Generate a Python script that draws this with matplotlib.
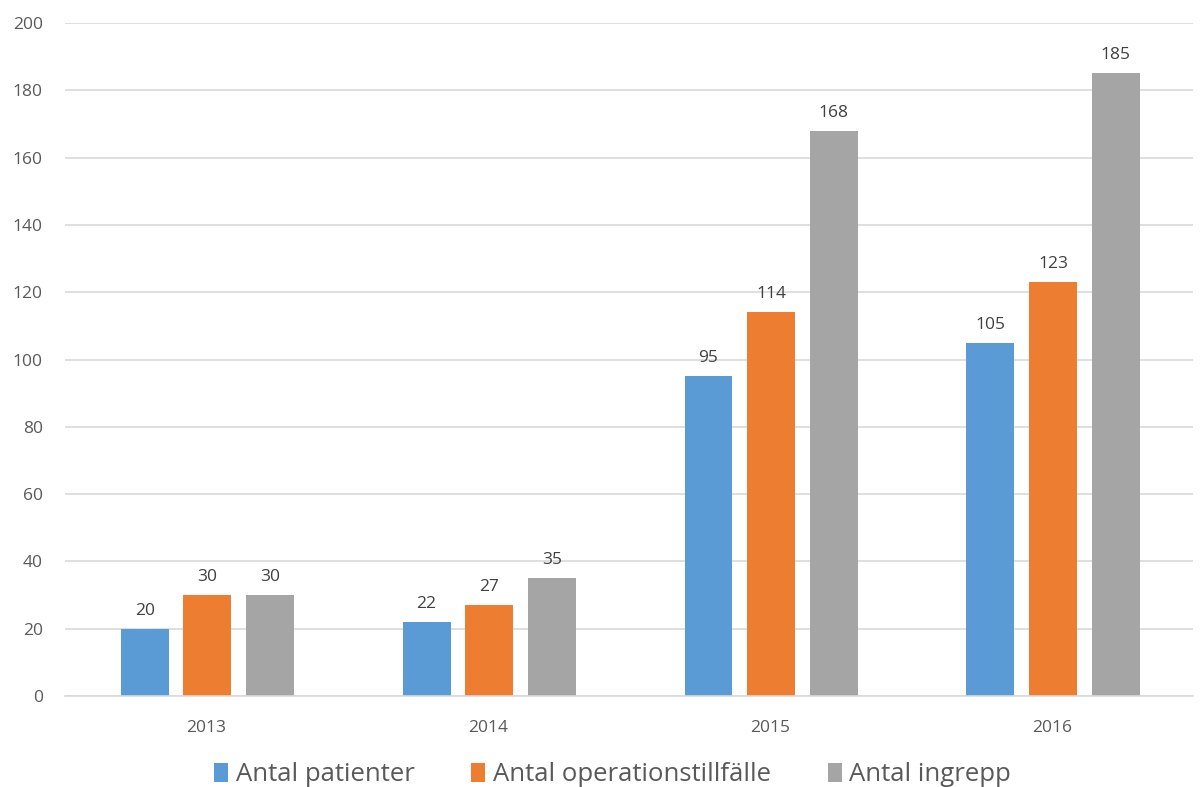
import numpy as np
import matplotlib
matplotlib.use('Agg')
import matplotlib.pyplot as plt

years = ['2013', '2014', '2015', '2016']
patienter = [20, 22, 95, 105]
tillfallen = [30, 27, 114, 123]
ingrepp = [30, 35, 168, 185]

series_names = ['Antal patienter', 'Antal operationstillfälle', 'Antal ingrepp']
colors = ['#5B9BD5', '#ED7D31', '#A5A5A5']
text_color = '#595959'

plt.rcParams['font.family'] = ['Open Sans', 'DejaVu Sans']


def main():
    fig = plt.figure(figsize=(12.01, 7.87), dpi=100)
    ax = fig.add_axes([0.054, 0.1156, 0.939, 0.8552])

    x = np.arange(len(years))
    width = 0.17
    step = 0.222
    all_series = [patienter, tillfallen, ingrepp]
    for i, (vals, name, col) in enumerate(zip(all_series, series_names, colors)):
        bars = ax.bar(x + 0.005 + (i - 1) * step, vals, width, color=col, label=name, zorder=2)
        for b, v in zip(bars, vals):
            ax.text(b.get_x() + b.get_width() / 2, v + 3, str(v),
                    ha='center', va='bottom', fontsize=12.5, color='#404040')

    ax.set_xlim(-0.5, 3.5)
    ax.set_ylim(0, 200)
    ax.set_yticks(range(0, 201, 20))
    ax.set_xticks(x)
    ax.set_xticklabels(years)
    ax.yaxis.grid(True, color='#D9D9D9', linewidth=1.2, zorder=0)
    ax.set_axisbelow(True)
    for s in ['top', 'right', 'left']:
        ax.spines[s].set_visible(False)
    ax.spines['bottom'].set_color('#D9D9D9')
    ax.spines['bottom'].set_linewidth(1.2)
    ax.tick_params(axis='both', length=0, labelsize=12.5, labelcolor=text_color)
    ax.tick_params(axis='y', pad=16)
    ax.tick_params(axis='x', pad=17)

    fig.legend(loc='lower center', bbox_to_anchor=(0.51, -0.03), ncol=3, frameon=False,
               fontsize=18.5, labelcolor=text_color, handlelength=0.55, handleheight=0.8,
               handletextpad=0.3, columnspacing=2.2)

    fig.savefig('out.png', dpi=100)


if __name__ == '__main__':
    main()
